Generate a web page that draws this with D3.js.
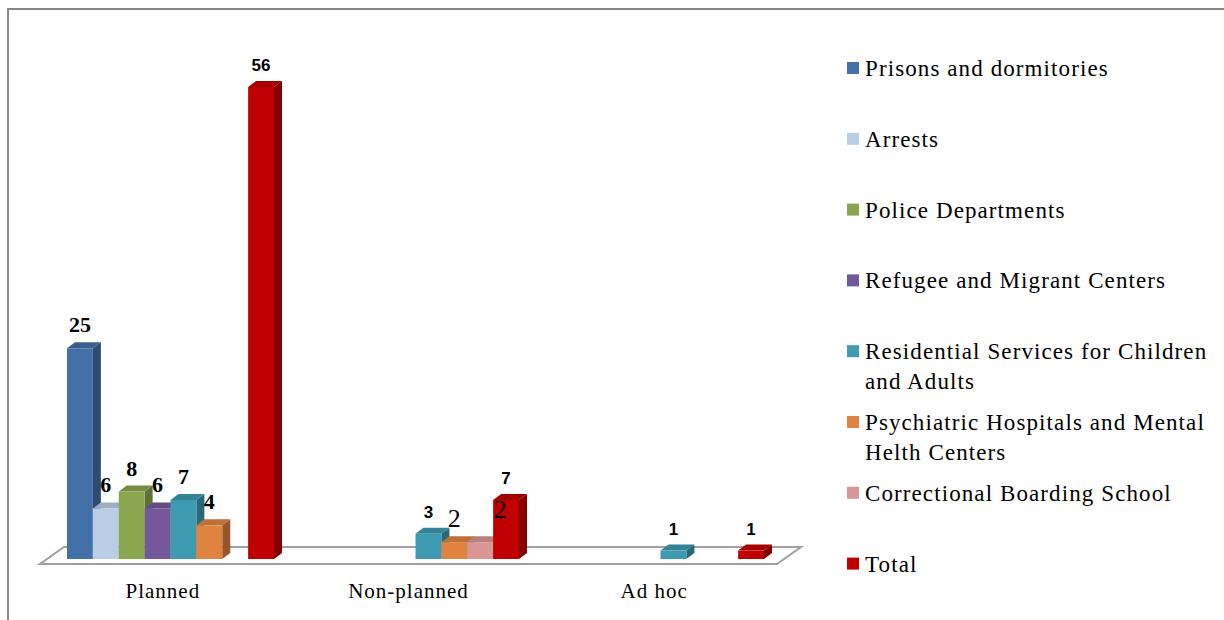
<!DOCTYPE html>
<html>
<head>
<meta charset="utf-8">
<script src="https://cdn.jsdelivr.net/npm/d3@7"></script>
<style>
  body { margin: 0; background: #fff; }
  svg { display: block; }
</style>
</head>
<body>
<svg id="Chart"></svg>
<script>
let categories = ["Planned", "Non-planned", "Ad hoc"];

let seriesNames = [
    "Prisons and dormitories",
    "Arrests",
    "Police Departments",
    "Refugee and Migrant Centers",
    "Residential Services for Children and Adults",
    "Psychiatric Hospitals and Mental Health Centers",
    "Correctional Boarding School",
    "Total"
];

// one list per category, in series order (0 = no bar)
let plannedValues = [25, 6, 8, 6, 7, 4, 0, 56];
let nonPlannedValues = [0, 0, 0, 0, 3, 2, 2, 7];
let adHocValues = [0, 0, 0, 0, 1, 0, 0, 1];

let seriesColors = ["#4470a8", "#b9cde5", "#8aa64e", "#74599a", "#3e9ab0", "#de8340", "#da9694", "#c00000"];

// legend text lines (wrapped like the original)
let legendLines = [
    ["Prisons and dormitories"],
    ["Arrests"],
    ["Police Departments"],
    ["Refugee and Migrant Centers"],
    ["Residential Services for Children", "and Adults"],
    ["Psychiatric Hospitals and Mental", "Helth Centers"],
    ["Correctional Boarding School"],
    ["Total"]
];

let serifFont = "'Liberation Serif', 'Times New Roman', serif";
let sansFont = "'Liberation Sans', Arial, sans-serif";

function getConfig() {
    let width = 1224;
    let height = 620;
    let depth = { dx: 8, dy: -6 };
    let container = d3.select("#Chart")
        .attr("width", width)
        .attr("height", height);
    return { width, height, depth, container }
}

function getScales() {
    let xCat = d3.scaleBand()
        .domain(categories)
        .range([48, 783])
        .paddingInner(0.155)
        .paddingOuter(0.0775);

    let xSeries = d3.scaleBand()
        .domain(seriesNames)
        .range([0, xCat.bandwidth()]);

    // front edge of the floor, used for the category labels
    let xFront = d3.scaleBand()
        .domain(categories)
        .range([40, 777]);

    let yScale = d3.scaleLinear()
        .domain([0, 56])
        .range([559, 87]);

    return { xCat, xSeries, xFront, yScale }
}

function buildRows() {
    let table = [plannedValues, nonPlannedValues, adHocValues];
    let rows = [];
    categories.forEach((c, i) => {
        seriesNames.forEach((s, j) => {
            rows.push({ category: c, series: s, index: j, value: table[i][j] });
        });
    });
    return rows;
}

function drawFrame(config) {
    let { container, width, height } = config;
    container.append("rect")
        .attr("width", width).attr("height", height)
        .attr("fill", "#fff");
    container.append("path")
        .attr("d", `M8,${height + 5} L8,9 L${width + 5},9`)
        .attr("fill", "none")
        .attr("stroke", "#878787")
        .attr("stroke-width", 2);
}

function drawFloor(config, scales) {
    let { container } = config;
    let [x0, x1] = scales.xFront.range();
    let yFront = 564, dx = 24, dy = -17;
    container.append("path")
        .attr("d", `M${x0},${yFront} L${x1},${yFront} L${x1 + dx},${yFront + dy} L${x0 + dx},${yFront + dy} Z`)
        .attr("fill", "none")
        .attr("stroke", "#a0a0a0")
        .attr("stroke-width", 2);

    container.selectAll(".catLabel")
        .data(categories)
        .enter().append("text")
        .attr("class", "catLabel")
        .attr("x", d => scales.xFront(d) + scales.xFront.bandwidth() / 2)
        .attr("y", 598)
        .attr("text-anchor", "middle")
        .attr("font-family", serifFont)
        .attr("font-size", 21)
        .attr("letter-spacing", 1)
        .attr("fill", "#000")
        .text(d => d);
}

function drawBars(rows, config, scales) {
    let { container, depth } = config;
    let { xCat, xSeries, yScale } = scales;
    let w = xSeries.bandwidth();
    let y0 = yScale(0);

    let bars = container.selectAll(".bar")
        .data(rows.filter(d => d.value > 0))
        .enter().append("g")
        .attr("class", "bar");

    let color = d => d3.color(seriesColors[d.index]);

    // side face
    bars.append("path")
        .attr("d", d => {
            let x = xCat(d.category) + xSeries(d.series) + w;
            let y = yScale(d.value);
            return `M${x},${y} L${x + depth.dx},${y + depth.dy} L${x + depth.dx},${y0 + depth.dy} L${x},${y0} Z`;
        })
        .attr("fill", d => color(d).darker(1.1));

    // top face
    bars.append("path")
        .attr("d", d => {
            let x = xCat(d.category) + xSeries(d.series);
            let y = yScale(d.value);
            return `M${x},${y} L${x + depth.dx},${y + depth.dy} L${x + w + depth.dx},${y + depth.dy} L${x + w},${y} Z`;
        })
        .attr("fill", d => color(d).darker(0.45));

    // front face
    bars.append("rect")
        .attr("x", d => xCat(d.category) + xSeries(d.series))
        .attr("y", d => yScale(d.value))
        .attr("width", w)
        .attr("height", d => y0 - yScale(d.value))
        .attr("fill", d => color(d));
}

function labelStyle(d) {
    // the original mixes fonts between the data labels
    let serifBold = { family: serifFont, weight: "bold", size: 22, dx: 0, dy: 0 };
    let sansBold = { family: sansFont, weight: "bold", size: 17, dx: 0, dy: 0 };
    let serifPlain = { family: serifFont, weight: "normal", size: 26, dx: 0, dy: 1 };
    if (d.category === "Planned" && d.series !== "Total") return serifBold;
    if (d.category === "Non-planned" && d.series === "Psychiatric Hospitals and Mental Health Centers") return serifPlain;
    if (d.category === "Non-planned" && d.series === "Correctional Boarding School") return Object.assign({}, serifPlain, { dx: 20, dy: -8 });
    return sansBold;
}

function drawLabels(rows, config, scales) {
    let { container } = config;
    let { xCat, xSeries, yScale } = scales;
    let w = xSeries.bandwidth();

    container.selectAll(".valLabel")
        .data(rows.filter(d => d.value > 0))
        .enter().append("text")
        .attr("class", "valLabel")
        .each(function (d) {
            let s = labelStyle(d);
            d3.select(this)
                .attr("x", xCat(d.category) + xSeries(d.series) + w / 2 + s.dx)
                .attr("y", yScale(d.value) - 16 + s.dy)
                .attr("font-family", s.family)
                .attr("font-weight", s.weight)
                .attr("font-size", s.size);
        })
        .attr("text-anchor", "middle")
        .attr("fill", "#000")
        .text(d => d.value);
}

function drawLegend(config) {
    let { container } = config;
    let top = 76, step = 70.8, lineGap = 30;

    let items = container.selectAll(".legend")
        .data(seriesNames)
        .enter().append("g")
        .attr("class", "legend")
        .attr("transform", (d, i) => `translate(847,${top + i * step})`);

    items.append("rect")
        .attr("x", 0).attr("y", -14)
        .attr("width", 12).attr("height", 12)
        .attr("fill", (d, i) => seriesColors[i]);

    items.append("text")
        .attr("font-family", serifFont)
        .attr("font-size", 23)
        .attr("letter-spacing", 1.1)
        .attr("fill", "#000")
        .each(function (d, i) {
            d3.select(this).selectAll("tspan")
                .data(legendLines[i])
                .enter().append("tspan")
                .attr("x", 18)
                .attr("y", (l, k) => k * lineGap)
                .text(l => l);
        });
}

function drawChart() {
    let config = getConfig();
    let scales = getScales();
    let rows = buildRows();
    drawFrame(config);
    drawFloor(config, scales);
    drawBars(rows, config, scales);
    drawLabels(rows, config, scales);
    drawLegend(config);
}

drawChart();
</script>
</body>
</html>
